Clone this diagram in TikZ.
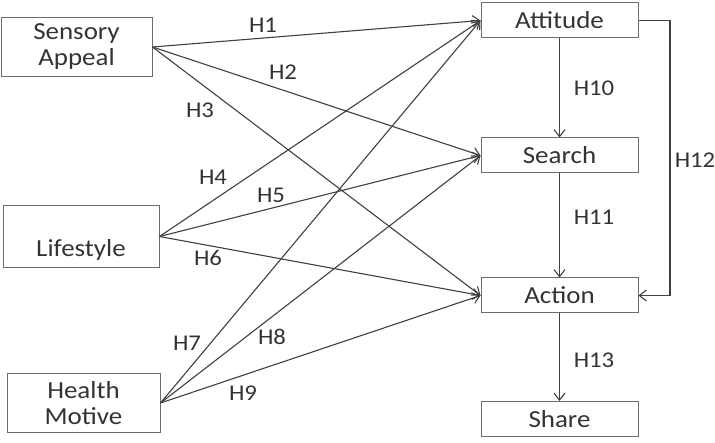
\documentclass[tikz,border=0pt]{standalone}
\usepackage{fontspec}
\setmainfont{Carlito}[FakeStretch=1.1]
\usetikzlibrary{arrows.meta}

\begin{document}
\begin{tikzpicture}[x=1pt, y=-1pt, >={Straight Barb[length=7pt,width=11pt]},
  box/.style={draw=gray!85!black, line width=1pt, inner sep=0pt, align=center,
    font=\fontsize{24.5}{27}\selectfont, text=black!80},
  hyp/.style={font=\fontsize{22.5}{24}\selectfont, text=black!80},
  path/.style={->, draw=black!75, line width=1.1pt}]
  \useasboundingbox (0,0) rectangle (715,443);

  % antecedents
  \node[box, minimum width=151pt, minimum height=59pt] (sens) at (76.5,47) {Sensory\\[-1pt]Appeal};
  \node[box, minimum width=156pt, minimum height=62pt] (life) at (81,236.5) {\strut\\[-1pt]Lifestyle};
  \node[box, minimum width=153pt, minimum height=59pt] (health) at (83.5,403) {Health\\[-1pt]Motive};

  % outcomes
  \node[box, minimum width=157pt, minimum height=35pt] (att) at (559.5,20.5) {Attitude};
  \node[box, minimum width=157pt, minimum height=35pt] (search) at (559.5,155.5) {Search};
  \node[box, minimum width=157pt, minimum height=35pt] (action) at (559.5,295.5) {Action};
  \node[box, minimum width=157pt, minimum height=35pt] (share) at (559.5,419) {Share};

  % H1--H9
  \foreach \s in {sens,life,health}
    \foreach \t in {att,search,action}
      \draw[path] (\s.east) -- (\t.west);

  % chain
  \draw[path] (att) -- (search);
  \draw[path] (search) -- (action);
  \draw[path] (action) -- (share);
  \coordinate (turn) at (670,20.5);
  \draw[path] (att.east) -- (turn) |- (action.east);

  % labels
  \node[hyp] (h1) at (263,25) {H1};
  \node[hyp] (h2) at (283,72) {H2};
  \node[hyp] (h3) at (200,110) {H3};
  \node[hyp] (h4) at (213,177) {H4};
  \node[hyp] (h5) at (271,195) {H5};
  \node[hyp] (h6) at (208,258) {H6};
  \node[hyp] (h7) at (187,343) {H7};
  \node[hyp] (h8) at (272,337) {H8};
  \node[hyp] (h9) at (243,393) {H9};
  \node[hyp] (h10) at (594,88) {H10};
  \node[hyp] (h11) at (594,217) {H11};
  \node[hyp] (h12) at (695,160) {H12};
  \node[hyp] (h13) at (594,360) {H13};
\end{tikzpicture}
\end{document}
